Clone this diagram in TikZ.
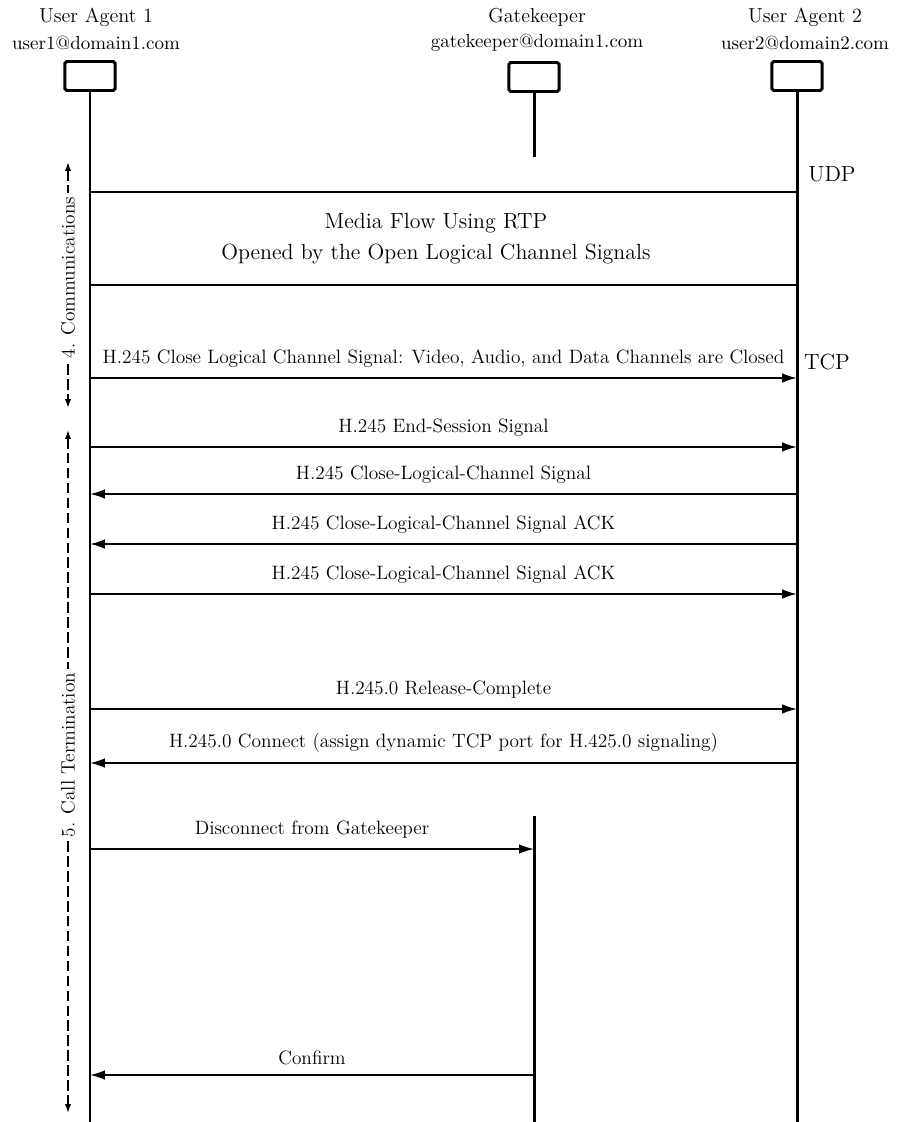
\documentclass[tikz,border=0pt]{standalone}
\usepackage{tikz}
\usetikzlibrary{arrows.meta, positioning, calc}

\begin{document}
\begin{tikzpicture}[x=0.02cm, y=-0.02cm,
    head/.style={draw=black, line width=1.7pt, rounded corners=1pt, minimum width=28.5pt, minimum height=16.5pt, inner sep=0pt},
    life/.style={line width=1.7pt},
    media/.style={line width=1.7pt},
    msg/.style={line width=1.1pt, -{Latex[length=8.5pt, width=5.5pt]}},
    lbl/.style={font=\fontsize{11}{13}\selectfont, above=2pt},
    title/.style={font=\fontsize{11.5}{13}\selectfont},
    addr/.style={font=\fontsize{10.8}{12}\selectfont},
    proto/.style={font=\fontsize{12.5}{14}\selectfont},
    phase/.style={line width=0.9pt, dash pattern=on 6pt off 2.5pt, {Latex[length=5pt, width=3.5pt]}-{Latex[length=5pt, width=3.5pt]}},
    phaselbl/.style={font=\fontsize{11}{13}\selectfont, fill=white, rotate=90, inner sep=2pt}]
    \useasboundingbox (0,0) rectangle (896,1122);

    \node[title] (ua1t) at (96,17) {User Agent 1};
    \node[addr] (ua1a) at (96,43) {user1@domain1.com};
    \node[title] (gkt) at (537,17) {Gatekeeper};
    \node[addr] (gka) at (537,43) {gatekeeper@domain1.com};
    \node[title] (ua2t) at (805,17) {User Agent 2};
    \node[addr] (ua2a) at (805,43) {user2@domain2.com};

    \node[head] (ua1) at (90,76) {};
    \node[head] (gk) at (534,77) {};
    \node[head] (ua2) at (797,76) {};

    \coordinate (bottom) at (0,1122);
    \coordinate (gkstop) at (534,157);
    \coordinate (gkresume) at (534,816);
    \draw[life] (ua1.south) -- (ua1 |- bottom);
    \draw[life] (ua2.south) -- (ua2 |- bottom);
    \draw[life] (gk.south) -- (gkstop);
    \draw[life] (gkresume) -- (gk |- bottom);

    \coordinate (rtptop) at (0,192);
    \coordinate (rtpbot) at (0,285);
    \draw[media] (ua1 |- rtptop) -- (ua2 |- rtptop);
    \draw[media] (ua1 |- rtpbot) -- (ua2 |- rtpbot);
    \node[proto] (rtp1) at (436,223) {Media Flow Using RTP};
    \node[proto] (rtp2) at (436,254) {Opened by the Open Logical Channel Signals};
    \node[proto] (udp) at (832,174) {UDP};
    \node[proto] (tcp) at (827,362) {TCP};

    \coordinate (m1) at (0,378);
    \coordinate (m2) at (0,447);
    \coordinate (m3) at (0,494);
    \coordinate (m4) at (0,544);
    \coordinate (m5) at (0,594);
    \coordinate (m6) at (0,709);
    \coordinate (m7) at (0,763);
    \coordinate (m8) at (0,849);
    \coordinate (m9) at (0,1075);

    \draw[msg] (ua1 |- m1) -- node[lbl] {H.245 Close Logical Channel Signal: Video, Audio, and Data Channels are Closed} (ua2 |- m1);
    \draw[msg] (ua1 |- m2) -- node[lbl] {H.245 End-Session Signal} (ua2 |- m2);
    \draw[msg] (ua2 |- m3) -- node[lbl] {H.245 Close-Logical-Channel Signal} (ua1 |- m3);
    \draw[msg] (ua2 |- m4) -- node[lbl] {H.245 Close-Logical-Channel Signal ACK} (ua1 |- m4);
    \draw[msg] (ua1 |- m5) -- node[lbl] {H.245 Close-Logical-Channel Signal ACK} (ua2 |- m5);
    \draw[msg] (ua1 |- m6) -- node[lbl] {H.245.0 Release-Complete} (ua2 |- m6);
    \draw[msg] (ua2 |- m7) -- node[lbl] {H.245.0 Connect (assign dynamic TCP port for H.425.0 signaling)} (ua1 |- m7);
    \draw[msg] (ua1 |- m8) -- node[lbl] {Disconnect from Gatekeeper} (gk |- m8);
    \draw[msg] (gk |- m9) -- node[lbl] {Confirm} (ua1 |- m9);

    \coordinate (comtop) at (68,162);
    \coordinate (combot) at (68,408);
    \coordinate (termtop) at (68,430);
    \coordinate (termbot) at (68,1113);
    \draw[phase] (comtop) -- node[phaselbl, pos=0.47] {4. Communications} (combot);
    \draw[phase] (termtop) -- node[phaselbl, pos=0.476] {5. Call Termination} (termbot);
\end{tikzpicture}
\end{document}
